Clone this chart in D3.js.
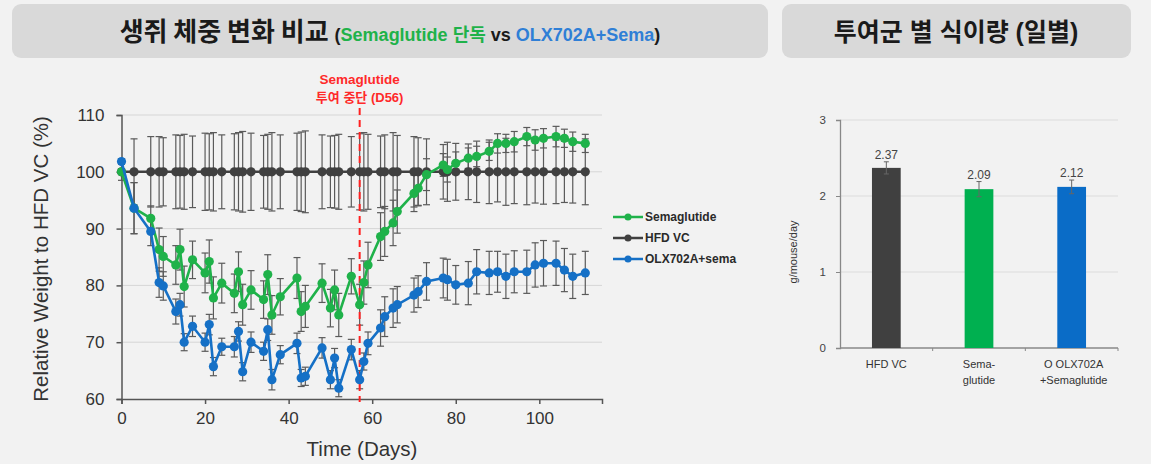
<!DOCTYPE html>
<html>
<head>
<meta charset="utf-8">
<script src="https://cdn.jsdelivr.net/npm/d3@7"></script>
<style>
  body { margin: 0; background: #f2f2f2; }
  svg { display: block; }
  text { font-family: "Liberation Sans", Arial, "Noto Sans CJK KR", sans-serif; }
</style>
</head>
<body>
<div id="chart"></div>
<script>
const W = 1151;
const H = 464;

// weight study, % of HFD VC
const days = [0, 3, 7, 9, 10, 13, 14, 15, 17, 20, 21, 22, 24, 27, 28, 29, 31, 34, 35, 36, 38, 42, 43, 44, 48, 50, 51, 52, 55, 57, 58, 59, 62, 63, 65, 66, 70, 71, 73, 77, 78, 80, 83, 85, 88, 90, 92, 94, 97, 99, 101, 104, 106, 108, 111];
const hfdVc = days.map(() => 100);
const hfdErr = [1.5, 5.8, 6.2, 6.2, 6.0, 6.5, 6.4, 6.6, 6.3, 6.8, 6.7, 6.9, 6.5, 6.7, 6.9, 7.1, 6.8, 6.4, 6.6, 6.9, 6.5, 6.8, 7.0, 7.2, 6.5, 6.3, 6.4, 6.6, 6.2, 6.7, 6.9, 6.6, 6.3, 6.5, 6.9, 6.4, 6.2, 6.0, 5.8, 4.8, 5.2, 5.0, 4.9, 5.4, 5.6, 5.3, 5.9, 5.6, 5.8, 5.5, 5.7, 5.6, 5.4, 5.5, 5.8];
const sema = [100, 93.6, 91.8, 86.3, 85.1, 83.6, 86.3, 79.8, 84.5, 82.2, 84.2, 77.8, 80.4, 78.6, 82.4, 76.6, 79.2, 77.5, 81.9, 74.8, 78.0, 81.3, 75.4, 76.3, 80.4, 76.0, 79.2, 74.8, 81.6, 76.6, 80.5, 83.6, 88.6, 89.5, 91.0, 93.0, 96.2, 97.1, 99.5, 101.2, 100.4, 101.5, 102.4, 102.7, 103.6, 105.0, 105.0, 105.3, 106.2, 105.6, 105.9, 106.2, 105.9, 105.3, 105.0];
const semaErr = [0.5, 4.5, 2.2, 3.8, 3.5, 3.4, 3.6, 3.6, 3.3, 3.5, 3.8, 3.7, 3.5, 3.4, 3.5, 3.6, 3.4, 3.3, 3.5, 3.4, 3.2, 3.6, 3.5, 3.7, 3.4, 3.3, 3.5, 3.8, 3.1, 3.6, 3.8, 4.0, 4.2, 4.4, 4.0, 3.8, 3.2, 3.0, 2.8, 2.0, 2.2, 2.0, 1.8, 1.8, 1.6, 1.7, 1.6, 1.8, 1.6, 1.8, 1.7, 1.8, 1.6, 1.7, 1.6];
const olx = [101.8, 93.6, 89.5, 80.5, 79.9, 75.4, 76.6, 70.0, 72.8, 70.0, 73.1, 65.7, 69.2, 69.2, 71.9, 64.8, 70.0, 68.4, 72.2, 63.4, 67.8, 69.8, 63.7, 64.0, 69.0, 63.4, 67.2, 61.9, 68.7, 63.4, 66.6, 69.8, 72.5, 74.5, 76.0, 76.6, 78.3, 78.9, 80.7, 81.3, 81.0, 80.1, 80.4, 82.4, 82.2, 82.4, 81.6, 82.4, 82.4, 83.6, 83.9, 83.9, 82.7, 81.6, 82.2];
const olxErr = [0.5, 4.5, 2.5, 2.6, 2.5, 2.2, 2.0, 1.5, 1.8, 1.6, 1.8, 1.6, 1.5, 1.8, 1.7, 1.6, 1.8, 1.6, 1.9, 1.8, 1.6, 1.8, 1.5, 1.6, 1.8, 1.6, 1.7, 1.5, 1.8, 1.6, 1.5, 2.0, 3.2, 3.5, 3.4, 3.2, 3.0, 2.8, 3.3, 3.5, 3.6, 3.4, 3.8, 3.9, 3.8, 3.6, 3.9, 3.7, 3.8, 3.9, 4.0, 3.9, 3.8, 3.9, 3.8];
const xTicks = [0, 20, 40, 60, 80, 100];
const yTicks = [60, 70, 80, 90, 100, 110];
const stopDay = 57;

// daily food intake
const groups = ['HFD VC', 'Sema-glutide', 'OLX702A+Semaglutide'];
const groupLabels = [['HFD VC'], ['Sema-', 'glutide'], ['O OLX702A', '+Semaglutide']];
const intake = [2.37, 2.09, 2.12];
const intakeErr = [0.08, 0.1, 0.09];
const intakeTicks = [0, 1, 2, 3];

const green = '#1fb24a';
const blue = '#1570c6';
const dark = '#404040';

const svg = d3.select('#chart').append('svg').attr('width', W).attr('height', H);

// title boxes
svg.append('rect').attr('x', 12).attr('y', 4).attr('width', 756).attr('height', 54)
  .attr('rx', 9).attr('fill', '#d9d9d9');
svg.append('rect').attr('x', 782).attr('y', 4).attr('width', 349).attr('height', 54)
  .attr('rx', 9).attr('fill', '#d9d9d9');

const t1 = svg.append('text').attr('x', 390).attr('y', 41).attr('text-anchor', 'middle')
  .attr('font-weight', 'bold').attr('fill', '#1a1a1a');
t1.append('tspan').attr('font-size', 26).attr('font-family', 'Noto Sans CJK KR').text('생쥐 체중 변화 비교 ');
t1.append('tspan').attr('font-size', 18).text('(');
t1.append('tspan').attr('font-size', 18).attr('fill', green).text('Semaglutide ');
t1.append('tspan').attr('font-size', 18).attr('fill', green).attr('font-family', 'Noto Sans CJK KR').text('단독');
t1.append('tspan').attr('font-size', 18).text(' vs ');
t1.append('tspan').attr('font-size', 18).attr('fill', '#2f7fd6').text('OLX702A+Sema');
t1.append('tspan').attr('font-size', 18).text(')');

svg.append('text').attr('x', 956).attr('y', 41).attr('text-anchor', 'middle')
  .attr('font-weight', 'bold').attr('font-size', 25).attr('fill', '#1a1a1a')
  .attr('font-family', 'Noto Sans CJK KR').text('투여군 별 식이량 (일별)');

// ---- weight line chart ----
const x = d3.scaleLinear().domain([0, 115]).range([121.5, 602]);
const y = d3.scaleLinear().domain([60, 110]).range([399, 115]);

svg.append('g').selectAll('line').data(yTicks.slice(1)).enter().append('line')
  .attr('x1', x(0)).attr('x2', x(115)).attr('y1', (d) => y(d)).attr('y2', (d) => y(d))
  .attr('stroke', '#d6d6d6').attr('stroke-width', 1);

const xAxis = svg.append('g').attr('transform', `translate(0,${y(60)})`)
  .call(d3.axisBottom(x).tickValues(xTicks).tickSize(5).tickPadding(8));
const yAxis = svg.append('g').attr('transform', `translate(${x(0)},0)`)
  .call(d3.axisLeft(y).tickValues(yTicks).tickSize(5).tickPadding(12));
[xAxis, yAxis].forEach((g) => {
  g.select('.domain').attr('stroke', '#555').attr('stroke-width', 1.5);
  g.selectAll('.tick line').attr('stroke', '#555').attr('stroke-width', 1.5);
  g.selectAll('.tick text').attr('font-size', 17).attr('fill', '#333')
    .attr('font-family', 'Liberation Sans, Arial, sans-serif');
});

svg.append('text').attr('transform', `translate(48,259) rotate(-90)`).attr('text-anchor', 'middle')
  .attr('font-size', 20.5).attr('fill', '#333').text('Relative Weight to HFD VC (%)');
svg.append('text').attr('x', 362).attr('y', 456).attr('text-anchor', 'middle')
  .attr('font-size', 20.5).attr('fill', '#333').text('Time (Days)');

const series = [
  { name: 'HFD VC', vals: hfdVc, err: hfdErr, color: dark },
  { name: 'Semaglutide', vals: sema, err: semaErr, color: green },
  { name: 'OLX702A+sema', vals: olx, err: olxErr, color: blue }
];

// error bars
series.forEach((s) => {
  const g = svg.append('g').attr('stroke', '#5a5a5a').attr('stroke-width', 1.2);
  days.forEach((d, i) => {
    const cx = x(d);
    const top = y(s.vals[i] + s.err[i]);
    const bot = y(s.vals[i] - s.err[i]);
    g.append('line').attr('x1', cx).attr('x2', cx).attr('y1', top).attr('y2', bot);
    g.append('line').attr('x1', cx - 3.5).attr('x2', cx + 3.5).attr('y1', top).attr('y2', top);
    g.append('line').attr('x1', cx - 3.5).attr('x2', cx + 3.5).attr('y1', bot).attr('y2', bot);
  });
});

// red stop line
svg.append('line').attr('x1', x(stopDay)).attr('x2', x(stopDay)).attr('y1', 108).attr('y2', 402)
  .attr('stroke', '#ff2020').attr('stroke-width', 2).attr('stroke-dasharray', '7,5');
svg.append('text').attr('x', x(stopDay)).attr('y', 84).attr('text-anchor', 'middle')
  .attr('font-size', 13.5).attr('font-weight', 'bold').attr('fill', '#ff2a2a').text('Semaglutide');
svg.append('text').attr('x', x(stopDay)).attr('y', 102).attr('text-anchor', 'middle')
  .attr('font-size', 13).attr('font-weight', 'bold').attr('fill', '#ff2a2a')
  .attr('font-family', 'Noto Sans CJK KR').text('투여 중단 (D56)');

// lines + markers
const line = d3.line().x((d) => x(d[0])).y((d) => y(d[1]));
series.forEach((s) => {
  const pts = days.map((d, i) => [d, s.vals[i]]);
  svg.append('path').datum(pts).attr('d', line).attr('fill', 'none')
    .attr('stroke', s.color).attr('stroke-width', 2.6);
  svg.append('g').selectAll('circle').data(pts).enter().append('circle')
    .attr('cx', (d) => x(d[0])).attr('cy', (d) => y(d[1])).attr('r', 4.6)
    .attr('fill', s.color);
});

// legend
const legendOrder = [series[1], series[0], series[2]];
const lg = svg.append('g').attr('transform', 'translate(613,217)');
legendOrder.forEach((s, i) => {
  const ly = i * 21;
  lg.append('line').attr('x1', 0).attr('x2', 30).attr('y1', ly).attr('y2', ly)
    .attr('stroke', s.color).attr('stroke-width', 2.5);
  lg.append('circle').attr('cx', 15).attr('cy', ly).attr('r', 3.5).attr('fill', s.color);
  lg.append('text').attr('x', 32).attr('y', ly + 4).attr('font-size', 12)
    .attr('font-weight', 'bold').attr('fill', '#2a2a2a').text(s.name);
});

// ---- food intake bar chart ----
const bx = d3.scaleBand().domain(groups).range([840, 1118]).paddingInner(0.69).paddingOuter(0.345);
const by = d3.scaleLinear().domain([0, 3]).range([348, 120]);
const barColors = [dark, '#00b050', '#0a6cc7'];

svg.append('g').selectAll('line').data(intakeTicks.slice(1)).enter().append('line')
  .attr('x1', 840).attr('x2', 1118).attr('y1', (d) => by(d)).attr('y2', (d) => by(d))
  .attr('stroke', '#dcdcdc').attr('stroke-width', 1);

const byAxis = svg.append('g').attr('transform', 'translate(840,0)')
  .call(d3.axisLeft(by).tickValues(intakeTicks).tickFormat(d3.format('d')).tickSize(4).tickPadding(10));
byAxis.select('.domain').attr('stroke', '#888').attr('stroke-width', 1.3);
byAxis.selectAll('.tick line').attr('stroke', '#888');
byAxis.selectAll('.tick text').attr('font-size', 11.5).attr('fill', '#444')
  .attr('font-family', 'Liberation Sans, Arial, sans-serif');

svg.append('line').attr('x1', 840).attr('x2', 1118).attr('y1', by(0)).attr('y2', by(0))
  .attr('stroke', '#888').attr('stroke-width', 1.3);
svg.append('g').selectAll('line').data([1, 2, 3]).enter().append('line')
  .attr('x1', (d) => 840 + d * bx.step()).attr('x2', (d) => 840 + d * bx.step())
  .attr('y1', by(0)).attr('y2', by(0) + 3).attr('stroke', '#888');

svg.append('g').selectAll('rect').data(groups).enter().append('rect')
  .attr('x', (d) => bx(d)).attr('width', bx.bandwidth())
  .attr('y', (d, i) => by(intake[i])).attr('height', (d, i) => by(0) - by(intake[i]))
  .attr('fill', (d, i) => barColors[i]);

groups.forEach((g, i) => {
  const cx = bx(g) + bx.bandwidth() / 2;
  const eg = svg.append('g').attr('stroke', '#666').attr('stroke-width', 1);
  eg.append('line').attr('x1', cx).attr('x2', cx)
    .attr('y1', by(intake[i] + intakeErr[i])).attr('y2', by(intake[i] - intakeErr[i]));
  eg.append('line').attr('x1', cx - 2.5).attr('x2', cx + 2.5)
    .attr('y1', by(intake[i] + intakeErr[i])).attr('y2', by(intake[i] + intakeErr[i]));
  eg.append('line').attr('x1', cx - 2.5).attr('x2', cx + 2.5)
    .attr('y1', by(intake[i] - intakeErr[i])).attr('y2', by(intake[i] - intakeErr[i]));
  svg.append('text').attr('x', cx).attr('y', by(intake[i] + intakeErr[i]) - 3)
    .attr('text-anchor', 'middle').attr('font-size', 12).attr('fill', '#444')
    .text(intake[i].toFixed(2));
  groupLabels[i].forEach((lab, j) => {
    svg.append('text').attr('x', cx + (i === 2 ? 2 : 0)).attr('y', 368 + j * 16)
      .attr('text-anchor', 'middle').attr('font-size', 11).attr('fill', '#333').text(lab);
  });
});

svg.append('text').attr('transform', 'translate(797,252) rotate(-90)').attr('text-anchor', 'middle')
  .attr('font-size', 11).attr('fill', '#333').text('g/mouse/day');
</script>
</body>
</html>
